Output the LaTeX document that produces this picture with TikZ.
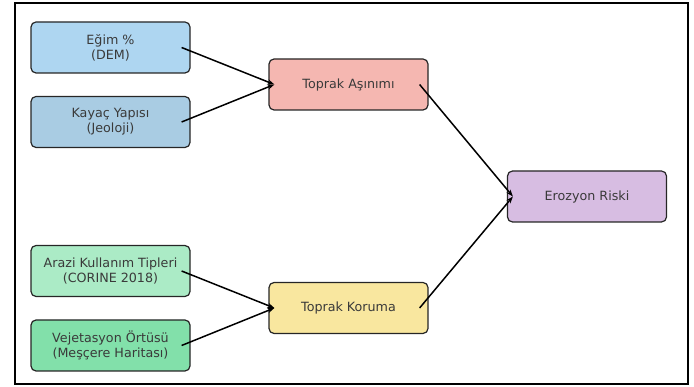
\documentclass[tikz,border=0pt]{standalone}
\usepackage{fontspec}
\setmainfont{DejaVu Sans}
\usetikzlibrary{arrows.meta}
\definecolor{egimblue}{HTML}{AED6F1}
\definecolor{kayacblue}{HTML}{A9CCE3}
\definecolor{arazigreen}{HTML}{ABEBC6}
\definecolor{vejgreen}{HTML}{82E0AA}
\definecolor{asinimred}{HTML}{F5B7B1}
\definecolor{korumayellow}{HTML}{F9E79F}
\definecolor{riskpurple}{HTML}{D7BDE2}
\definecolor{textgray}{HTML}{3A3A3A}

\begin{document}
\begin{tikzpicture}[x=1pt,y=-1pt,
    box/.style={draw=black!85,line width=1.2pt,rounded corners=5pt,
      minimum width=159pt,minimum height=51pt,align=center,
      text=textgray,font=\fontsize{12.7}{15.2}\selectfont},
    link/.style={-{Stealth[length=7pt,width=5pt]},line width=1.5pt}]
  \useasboundingbox (0,0) rectangle (694,387);
  \draw[line width=1.6pt] (15,3) rectangle (688,384);
  % inputs
  \node[box,fill=egimblue] (egim) at (110.5,47.5) {Eğim \%\\(DEM)};
  \node[box,fill=kayacblue] (kayac) at (110.5,122) {Kayaç Yapısı\\(Jeoloji)};
  \node[box,fill=arazigreen] (arazi) at (110.5,271) {Arazi Kullanım Tipleri\\(CORINE 2018)};
  \node[box,fill=vejgreen] (vejetasyon) at (110.5,345.5) {Vejetasyon Örtüsü\\(Meşçere Haritası)};
  % middle layer
  \node[box,fill=asinimred] (asinim) at (348.5,84.5) {Toprak Aşınımı};
  \node[box,fill=korumayellow] (koruma) at (348.5,308) {Toprak Koruma};
  % output
  \node[box,fill=riskpurple] (risk) at (587,196.5) {Erozyon Riski};
  \draw[link] ([xshift=-9pt]egim.east) -- ([xshift=6pt]asinim.west);
  \draw[link] ([xshift=-9pt]kayac.east) -- ([xshift=6pt]asinim.west);
  \draw[link] ([xshift=-9pt]arazi.east) -- ([xshift=6pt]koruma.west);
  \draw[link] ([xshift=-9pt]vejetasyon.east) -- ([xshift=6pt]koruma.west);
  \draw[link] ([xshift=-9pt]asinim.east) -- ([xshift=6pt]risk.west);
  \draw[link] ([xshift=-9pt]koruma.east) -- ([xshift=6pt]risk.west);
\end{tikzpicture}
\end{document}
